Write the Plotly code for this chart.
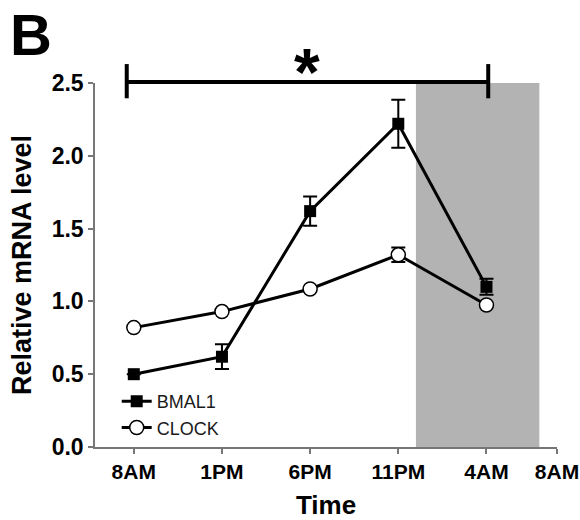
import plotly.graph_objects as go

# ---- data ----
time_labels = ["8AM", "1PM", "6PM", "11PM", "4AM", "8AM"]
tick_hours = [0, 5, 10, 15, 20, 24]
hours = [0, 5, 10, 15, 20]
bmal1 = [0.50, 0.62, 1.62, 2.22, 1.10]
bmal1_err = [0.0, 0.085, 0.10, 0.165, 0.055]
clock = [0.82, 0.93, 1.085, 1.32, 0.975]
clock_err = [0.0, 0.0, 0.0, 0.05, 0.0]
dark_start, dark_end = 16, 23
y_ticks = [0.0, 0.5, 1.0, 1.5, 2.0, 2.5]

FONT = "Arial, Liberation Sans, Helvetica, sans-serif"

fig = go.Figure()

fig.add_trace(go.Scatter(
    x=hours, y=bmal1, name="BMAL1", mode="lines+markers",
    line=dict(color="black", width=3),
    marker=dict(symbol="square", size=12, color="black"),
    error_y=dict(type="data", array=bmal1_err, color="black", thickness=2, width=7),
))
fig.add_trace(go.Scatter(
    x=hours, y=clock, name="CLOCK", mode="lines+markers",
    line=dict(color="black", width=3),
    marker=dict(symbol="circle", size=14, color="white", line=dict(color="black", width=1.5)),
    error_y=dict(type="data", array=clock_err, color="black", thickness=2, width=7),
))

# dark phase shading
fig.add_shape(type="rect", xref="x", yref="y", x0=dark_start, x1=dark_end, y0=0, y1=y_ticks[-1],
              fillcolor="#b3b3b3", line=dict(width=0), layer="below")

# significance bracket
bx0 = hours[0] - 0.4
bx1 = hours[4] + 0.1
fig.add_shape(type="line", xref="x", yref="paper", x0=bx0, x1=bx1, y0=1.003, y1=1.003,
              line=dict(color="black", width=4))
fig.add_shape(type="line", xref="x", yref="paper", x0=bx0, x1=bx0, y0=0.958, y1=1.052,
              line=dict(color="black", width=4))
fig.add_shape(type="line", xref="x", yref="paper", x0=bx1, x1=bx1, y0=0.958, y1=1.052,
              line=dict(color="black", width=4))
fig.add_annotation(x=(bx0 + bx1) / 2, xref="x", y=1.03, yref="paper", text="*",
                   showarrow=False, font=dict(family=FONT, size=66, color="black", weight="bold"),
                   yanchor="middle")

# panel label
fig.add_annotation(x=0, xref="paper", y=1.0, yref="paper", xshift=-87, yshift=83,
                   text="B", showarrow=False,
                   font=dict(family=FONT, size=58, color="black", weight="bold"),
                   xanchor="left", yanchor="top")

fig.update_layout(
    width=580, height=520,
    margin=dict(l=95, r=23, t=83, b=73),
    paper_bgcolor="white", plot_bgcolor="white",
    font=dict(family=FONT, color="black"),
    showlegend=True,
    legend=dict(x=0.047, y=0.176, xanchor="left", yanchor="top",
                bgcolor="rgba(0,0,0,0)", font=dict(family=FONT, size=18, color="#1a1a1a"),
                tracegroupgap=0),
)
fig.update_xaxes(
    range=[-2.2, 24], tickmode="array", tickvals=tick_hours, ticktext=time_labels,
    automargin=False, ticklabeloverflow="allow",
    showgrid=False, zeroline=False, showline=True, linecolor="#777", linewidth=1.5,
    ticks="outside", ticklen=5, tickwidth=1.5, tickcolor="#777",
    tickfont=dict(family=FONT, size=21, color="black", weight="bold"),
    title=dict(text="Time", font=dict(family=FONT, size=26, color="black", weight="bold"), standoff=16),
)
fig.update_yaxes(
    range=[0, 2.5], tickmode="array", tickvals=y_ticks, tickformat=".1f",
    automargin=False,
    showgrid=False, zeroline=False, showline=True, linecolor="#777", linewidth=1.5,
    ticks="outside", ticklen=5, tickwidth=1.5, tickcolor="#777",
    tickfont=dict(family=FONT, size=23, color="black", weight="bold"),
    title=dict(text="Relative mRNA level", font=dict(family=FONT, size=27, color="black", weight="bold"), standoff=12),
)

fig.write_html("out.html")
